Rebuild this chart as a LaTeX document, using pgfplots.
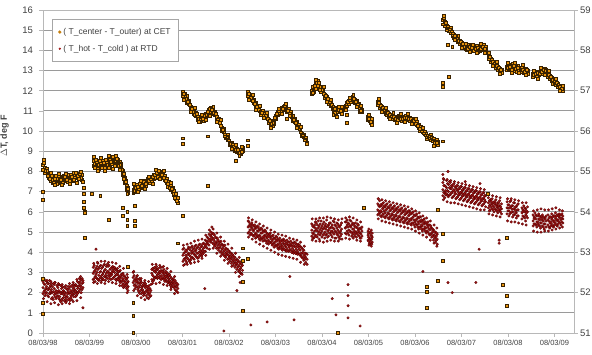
\documentclass[border=0pt]{standalone}
\usepackage{pgfplots}
\usepackage{pgfplotstable}
\pgfplotsset{compat=1.18}
\usepackage{fontspec}
\setmainfont{Liberation Sans}
\definecolor{cetfill}{HTML}{E8930C}
\definecolor{cetedge}{HTML}{3A2200}
\definecolor{rtdfill}{HTML}{A01515}
\definecolor{rtdedge}{HTML}{5A0000}
\definecolor{gridc}{HTML}{9A9A9A}
\definecolor{axc}{HTML}{B8B8B8}
\definecolor{txt}{HTML}{404040}

\pgfplotstableread{
x c1 c2 r1 r2 r3
0.00 8.35 8.10 2.25 2.55 1.95
0.04 8.20 7.95 2.40 2.10 1.85
0.08 7.95 8.15 2.30 2.00 2.55
0.12 7.70 7.85 2.15 1.80 2.45
0.16 7.55 7.75 2.35 1.95 2.05
0.20 7.60 7.45 2.00 2.30 1.75
0.24 7.70 7.50 1.90 2.20 2.40
0.28 7.55 7.80 2.10 1.70 1.95
0.32 7.65 7.45 1.85 2.25 2.00
0.36 7.50 7.70 2.05 1.65 1.80
0.40 7.75 7.55 1.95 2.20 1.60
0.44 7.60 7.80 1.75 2.10 1.90
0.48 7.55 7.70 2.00 1.65 1.85
0.52 7.70 7.50 1.80 2.15 1.95
0.56 7.80 7.60 1.95 1.70 2.20
0.60 7.65 7.85 2.10 1.85 1.75
0.64 7.75 7.55 1.90 2.25 2.05
0.68 7.85 7.70 2.15 1.95 2.30
0.72 7.70 7.90 2.05 2.35 1.85
0.76 7.80 7.65 2.30 2.00 2.50
0.80 7.75 7.95 2.20 2.55 2.35
0.84 7.60 7.85 2.45 2.15 2.70
1.08 8.55 8.30 2.95 2.65 3.25
1.12 8.40 8.20 2.80 3.10 2.55
1.16 8.25 8.50 3.00 2.70 3.30
1.20 8.35 8.15 2.85 3.20 2.60
1.24 8.45 8.25 3.05 2.75 3.35
1.28 8.30 8.55 2.90 3.25 2.70
1.32 8.40 8.20 3.10 2.80 3.40
1.36 8.25 8.45 2.95 3.30 2.75
1.40 8.50 8.30 3.05 2.85 3.30
1.44 8.35 8.60 3.15 2.80 2.95
1.48 8.65 8.40 2.90 3.25 3.00
1.52 8.45 8.70 3.05 2.75 3.20
1.56 8.55 8.35 2.85 3.15 2.65
1.60 8.40 8.60 2.95 2.70 3.20
1.64 8.50 8.25 2.75 3.05 2.60
1.68 8.20 8.40 2.90 2.55 2.80
1.72 8.05 7.85 2.70 2.45 2.95
1.76 7.70 7.45 2.55 2.80 2.30
1.80 7.30 7.10 2.40 2.65 2.20
1.83 6.95 7.20 2.30 2.55 2.10
1.94 7.10 6.95 2.75 2.50 3.00
1.98 7.25 7.00 2.40 2.65 2.20
2.02 7.15 7.35 2.55 2.30 2.80
2.06 7.30 7.10 2.25 2.50 2.05
2.10 7.20 7.40 2.45 2.10 2.60
2.14 7.40 7.25 2.00 2.35 2.15
2.18 7.35 7.55 2.30 1.95 2.50
2.22 7.50 7.30 2.10 1.85 2.35
2.26 7.45 7.65 1.95 2.25 2.05
2.30 7.60 7.45 2.20 1.80 2.00
2.34 7.70 7.55 2.95 2.65 3.15
2.38 7.65 7.85 2.80 3.10 2.60
2.42 7.80 7.70 3.00 2.75 3.20
2.46 7.90 7.75 2.90 3.15 2.70
2.50 7.85 8.00 3.05 2.80 2.95
2.54 7.95 7.80 2.85 3.10 2.65
2.58 7.75 7.90 2.95 2.70 3.05
2.62 7.60 7.80 2.75 2.95 2.55
2.66 7.45 7.65 2.85 2.60 3.00
2.70 7.30 7.50 2.70 2.50 2.85
2.74 7.10 7.35 2.55 2.80 2.35
2.78 7.00 7.20 2.65 2.40 2.50
2.82 6.85 7.05 2.45 2.25 2.60
2.86 6.65 6.90 2.30 2.50 2.10
2.90 6.45 6.70 2.20 2.40 2.00
3.01 11.95 11.75 3.85 3.55 4.15
3.05 11.70 11.85 4.00 3.70 3.40
3.09 11.55 11.40 3.75 4.05 3.50
3.13 11.35 11.50 3.95 3.65 4.25
3.17 11.20 11.05 3.80 4.10 3.60
3.21 11.00 11.15 4.05 3.75 4.30
3.25 10.85 11.00 3.90 4.20 3.65
3.29 10.75 10.90 4.10 3.80 4.35
3.33 10.70 10.55 3.95 4.25 3.70
3.37 10.60 10.45 4.15 3.85 4.40
3.41 10.50 10.65 4.00 4.30 3.80
3.45 10.65 10.50 4.20 3.95 4.45
3.49 10.70 10.85 4.35 4.05 4.60
3.53 10.90 10.75 4.50 4.20 4.75
3.57 11.05 10.90 4.65 4.35 4.90
3.61 11.15 10.95 4.80 4.50 5.00
3.65 11.00 10.85 4.70 4.95 4.45
3.69 10.80 10.95 4.55 4.85 4.30
3.73 10.70 10.55 4.45 4.70 4.20
3.77 10.45 10.60 4.35 4.60 4.10
3.81 10.30 10.45 4.25 4.50 4.00
3.85 10.15 10.00 4.15 4.40 3.90
3.89 9.95 10.10 4.05 4.30 3.85
3.93 9.80 9.65 3.95 4.20 3.75
3.97 9.55 9.70 3.90 4.15 3.65
4.01 9.45 9.35 3.80 4.05 3.55
4.05 9.30 9.45 3.70 3.95 3.45
4.09 9.20 9.35 3.60 3.85 3.35
4.13 9.15 9.05 3.50 3.75 3.25
4.17 9.00 9.15 3.40 3.65 3.15
4.21 9.05 8.95 3.30 3.55 3.05
4.25 8.90 9.10 3.20 3.50 2.95
4.29 9.05 9.20 3.35 3.10 3.55
4.41 11.95 11.75 5.25 4.95 5.55
4.45 11.80 11.60 5.10 5.40 4.85
4.49 11.55 11.70 5.20 4.90 5.45
4.53 11.40 11.55 5.05 5.30 4.80
4.57 11.25 11.40 4.95 5.25 4.70
4.61 11.10 11.25 5.05 4.80 5.30
4.65 11.00 11.15 4.85 5.15 4.65
4.69 10.95 10.80 4.95 4.70 5.20
4.73 10.85 11.00 4.75 5.05 4.55
4.77 10.70 10.85 4.85 4.60 5.10
4.81 10.65 10.80 4.70 4.95 4.45
4.85 10.55 10.40 4.60 4.85 4.40
4.89 10.45 10.30 4.75 4.50 4.95
4.93 10.25 10.40 4.55 4.80 4.35
4.97 10.50 10.35 4.45 4.70 4.25
5.01 10.75 10.60 4.60 4.35 4.80
5.05 10.95 10.80 4.40 4.65 4.20
5.09 11.05 10.90 4.50 4.25 4.70
5.13 11.15 11.00 4.35 4.60 4.15
5.17 11.20 11.05 4.45 4.20 4.65
5.21 11.15 11.25 4.30 4.55 4.10
5.25 11.10 10.95 4.40 4.15 4.60
5.29 10.95 11.10 4.25 4.50 4.05
5.33 10.80 10.95 4.35 4.10 4.55
5.37 10.65 10.50 4.20 4.45 4.00
5.41 10.45 10.60 4.30 4.05 4.50
5.45 10.30 10.45 4.15 4.40 3.95
5.49 10.15 10.30 4.25 3.95 4.40
5.53 10.00 10.15 4.10 3.85 4.30
5.57 9.90 9.75 3.95 4.20 3.75
5.61 9.70 9.85 3.85 4.10 3.60
5.65 9.55 9.70 3.75 3.95 3.50
5.68 9.45 9.40 3.65 3.90 3.40
5.78 12.00 11.85 5.10 4.80 5.40
5.82 12.15 11.95 4.90 5.25 4.70
5.86 12.35 12.10 5.20 5.50 4.85
5.90 12.50 12.25 5.05 4.75 5.35
5.94 12.30 12.10 5.30 5.00 4.65
5.98 12.15 11.95 4.95 5.20 5.55
6.02 11.95 12.10 5.15 4.85 5.40
6.06 11.80 11.65 5.00 5.30 4.70
6.10 11.70 11.55 5.25 4.90 5.60
6.14 11.50 11.35 4.80 5.10 5.35
6.18 11.40 11.25 5.20 4.95 5.45
6.22 11.25 11.10 5.05 5.35 4.75
6.26 11.15 11.00 4.90 5.15 5.50
6.30 11.05 10.90 5.30 5.00 4.70
6.34 11.00 11.15 5.10 4.85 5.40
6.38 10.95 11.10 4.95 5.25 4.65
6.42 11.05 11.20 5.15 5.45 4.90
6.50 11.25 11.10 5.20 4.95 5.50
6.54 11.40 11.25 5.35 5.05 5.60
6.58 11.50 11.35 5.10 5.40 4.85
6.62 11.60 11.45 5.25 5.00 5.55
6.66 11.70 11.55 5.15 5.45 4.90
6.70 11.55 11.40 5.30 5.05 4.80
6.74 11.35 11.50 5.00 5.25 4.75
6.78 11.20 11.35 5.10 4.85 5.35
6.82 11.10 10.95 4.95 5.20 4.70
6.86 10.95 11.05 5.05 4.80 5.25
6.99 10.70 10.55 4.85 4.60 5.05
7.02 10.50 10.65 4.70 4.45 4.95
7.05 10.40 10.55 4.60 4.85 4.40
7.08 10.35 10.50 4.75 4.50 4.95
7.20 11.45 11.30 6.10 6.40 5.85
7.24 11.30 11.15 6.25 5.95 6.55
7.28 11.20 11.05 6.00 6.30 5.75
7.32 11.10 10.95 6.20 5.90 6.45
7.36 11.00 10.85 5.95 6.25 5.70
7.40 10.95 10.80 6.15 5.85 6.40
7.44 10.85 10.70 5.90 6.20 5.65
7.48 10.80 10.65 6.10 5.80 6.35
7.52 10.75 10.60 5.85 6.15 5.60
7.56 10.70 10.55 6.05 5.75 6.30
7.60 10.65 10.50 5.80 6.10 5.55
7.64 10.60 10.75 6.00 5.70 6.25
7.68 10.55 10.70 5.75 6.05 5.50
7.72 10.65 10.50 5.95 5.65 6.20
7.76 10.70 10.55 5.70 6.00 5.45
7.80 10.60 10.75 5.90 5.60 6.15
7.84 10.55 10.70 5.65 5.95 5.40
7.88 10.65 10.50 5.85 5.55 6.05
7.92 10.55 10.40 5.60 5.90 5.35
7.96 10.45 10.60 5.75 5.45 6.00
8.00 10.40 10.55 5.50 5.80 5.25
8.04 10.30 10.45 5.65 5.35 5.90
8.08 10.15 10.30 5.40 5.70 5.15
8.12 10.05 10.20 5.50 5.25 5.75
8.16 9.95 10.10 5.30 5.55 5.05
8.20 9.85 10.00 5.40 5.15 5.65
8.24 9.75 9.90 5.20 5.45 4.95
8.28 9.70 9.80 5.25 5.00 5.50
8.32 9.60 9.75 5.10 4.85 5.35
8.36 9.55 9.70 4.95 5.20 4.75
8.40 9.50 9.65 4.85 5.10 4.60
8.44 9.40 9.55 4.75 5.00 4.50
8.48 9.35 9.50 4.65 4.90 4.40
8.60 15.50 15.30 7.10 7.45 6.80
8.64 15.40 15.20 6.95 7.30 6.70
8.68 15.25 15.05 7.20 6.90 7.55
8.72 15.10 14.95 7.00 7.35 6.75
8.76 15.00 14.85 7.15 6.85 7.45
8.80 14.90 14.75 6.95 7.25 6.70
8.84 14.80 14.65 7.10 6.80 7.40
8.88 14.70 14.55 6.90 7.20 6.65
8.92 14.60 14.45 7.05 6.75 7.30
8.96 14.50 14.35 6.85 7.15 6.60
9.00 14.40 14.25 7.00 6.70 7.25
9.04 14.30 14.15 6.80 7.10 6.55
9.08 14.25 14.10 6.95 6.65 7.20
9.12 14.20 14.05 6.75 7.05 6.50
9.16 14.15 14.30 6.90 6.60 7.15
9.20 14.10 14.25 6.70 7.00 6.45
9.24 14.05 14.20 6.85 6.55 7.10
9.28 14.15 14.00 6.65 6.95 6.40
9.32 14.25 14.05 6.80 6.50 7.05
9.36 14.10 13.95 6.60 6.90 6.35
9.40 14.20 14.00 6.75 6.45 7.00
9.44 14.05 14.25 6.55 6.85 6.30
9.48 14.15 14.30 6.70 6.40 6.95
9.52 14.00 14.20 6.50 6.80 6.25
9.58 13.75 13.60 6.45 6.20 6.70
9.62 13.60 13.45 6.35 6.60 6.10
9.66 13.50 13.35 6.40 6.15 6.65
9.70 13.40 13.25 6.25 6.50 6.00
9.74 13.30 13.15 6.35 6.10 6.60
9.78 13.20 13.05 6.20 6.45 5.95
9.82 13.10 12.95 6.30 6.05 6.55
9.86 13.05 12.90 6.15 6.40 5.90
9.98 13.20 13.05 6.20 5.90 6.50
10.02 13.30 13.10 6.05 6.35 5.80
10.06 13.25 13.05 6.25 5.95 6.55
10.10 13.35 13.15 6.00 6.30 5.75
10.14 13.20 13.00 6.15 5.85 6.45
10.18 13.10 12.95 5.95 6.25 5.70
10.22 13.25 13.05 6.10 5.80 6.40
10.30 13.15 12.95 5.95 6.20 5.65
10.34 13.05 12.90 6.05 5.75 6.30
10.38 12.95 13.10 5.85 6.15 5.55
10.42 13.00 12.85 6.00 5.70 6.25
10.54 12.85 12.70 5.55 5.85 5.30
10.58 12.95 12.80 5.70 5.40 5.95
10.62 12.90 12.75 5.50 5.80 5.25
10.66 12.80 12.95 5.65 5.35 5.90
10.70 12.90 13.05 5.45 5.75 5.20
10.74 13.00 12.85 5.60 5.30 5.85
10.78 13.10 12.95 5.40 5.70 5.15
10.82 12.95 13.05 5.55 5.25 5.80
10.86 12.85 12.70 5.60 5.35 5.85
10.90 12.75 12.60 5.45 5.75 5.20
10.94 12.65 12.50 5.65 5.40 5.90
10.98 12.55 12.40 5.50 5.80 5.25
11.02 12.45 12.30 5.70 5.45 5.95
11.06 12.35 12.20 5.55 5.85 5.30
11.10 12.25 12.15 5.75 5.50 5.90
11.14 12.20 12.05 5.60 5.35 5.85
11.18 12.10 12.00 5.65 5.45 5.80
}\main

\pgfplotstableread{
x c3 r4 r5 r6
0.02 8.45 2.05 2.45 2.70
0.06 8.05 1.95 2.60 2.20
0.10 7.80 2.45 1.85 2.15
0.14 7.65 1.95 2.60 2.25
0.18 7.80 2.15 1.70 2.45
0.22 7.45 2.45 2.05 1.65
0.26 7.65 2.00 2.50 1.80
0.30 7.40 2.35 1.80 2.05
0.34 7.80 1.70 2.10 2.40
0.38 7.60 1.95 2.35 1.55
0.42 7.45 2.30 1.70 2.05
0.46 7.75 1.60 2.00 2.25
0.50 7.60 2.20 1.75 1.55
0.54 7.85 1.65 2.05 2.30
0.58 7.55 2.30 2.00 1.60
0.62 7.75 1.95 1.65 2.35
0.66 7.60 2.40 1.80 2.15
0.70 7.95 1.80 2.40 2.05
0.74 7.80 2.20 2.55 1.95
0.78 7.90 2.45 2.10 2.70
0.82 7.70 2.30 2.65 2.00
0.86 7.50 2.60 2.25 2.50
1.10 8.40 3.05 2.70 3.35
1.14 8.60 2.75 3.20 2.90
1.18 8.15 3.15 2.65 3.45
1.22 8.55 2.70 3.00 3.30
1.26 8.20 3.20 2.85 2.60
1.30 8.45 2.65 3.35 3.00
1.34 8.60 3.15 2.85 2.60
1.38 8.35 2.70 3.40 3.05
1.42 8.20 3.35 2.95 2.70
1.46 8.50 2.85 3.20 2.65
1.50 8.75 3.30 2.70 3.10
1.54 8.30 2.80 3.25 3.00
1.58 8.65 3.10 2.60 2.90
1.62 8.30 2.65 3.05 2.85
1.66 8.35 3.10 2.70 2.50
1.70 8.10 2.60 2.90 2.35
1.74 7.90 2.85 2.40 2.60
1.78 7.55 2.35 2.70 2.50
1.82 7.15 2.50 2.25 2.75
1.96 7.05 2.60 2.85 2.35
2.00 7.20 2.70 2.30 2.55
2.04 7.25 2.15 2.45 2.65
2.08 7.40 2.35 2.70 1.95
2.12 7.30 2.25 1.95 2.50
2.16 7.50 2.40 2.05 1.85
2.20 7.40 2.00 2.45 2.25
2.24 7.60 2.30 1.75 2.15
2.28 7.55 1.90 2.35 2.15
2.32 7.65 2.10 2.40 1.85
2.36 7.75 2.85 3.20 2.55
2.40 7.85 3.05 2.70 3.25
2.44 7.95 2.80 3.10 3.30
2.48 8.05 3.20 2.75 2.95
2.52 7.90 2.70 3.25 3.00
2.56 7.85 3.05 2.75 3.25
2.60 7.70 2.85 3.15 2.65
2.64 7.55 2.65 3.05 2.80
2.68 7.40 2.95 2.50 2.75
2.72 7.20 2.60 2.90 2.45
2.76 7.15 2.45 2.70 2.25
2.80 6.90 2.70 2.30 2.55
2.84 6.75 2.35 2.60 2.15
2.88 6.55 2.45 2.05 2.30
3.03 11.85 3.95 3.65 4.20
3.07 11.60 3.60 4.10 3.85
3.11 11.45 4.15 3.70 3.90
3.15 11.30 3.55 3.85 4.20
3.19 11.10 3.95 4.25 3.70
3.23 10.95 3.70 4.15 3.95
3.27 10.80 4.30 3.85 4.05
3.31 10.85 3.75 4.20 3.95
3.35 10.60 4.35 4.00 3.75
3.39 10.55 3.90 4.25 4.05
3.43 10.60 4.40 4.10 3.90
3.47 10.75 4.05 4.40 4.25
3.51 10.80 4.55 4.25 4.40
3.55 10.95 4.70 4.40 4.55
3.59 11.10 4.55 4.85 4.65
3.63 11.05 4.90 4.60 4.75
3.67 10.90 4.40 4.65 4.90
3.71 10.85 4.75 4.45 4.35
3.75 10.55 4.25 4.55 4.70
3.79 10.40 4.50 4.20 4.40
3.83 10.25 4.05 4.35 4.55
3.87 10.05 4.35 3.95 4.20
3.91 9.85 3.80 4.10 4.35
3.95 9.70 4.15 3.85 4.00
3.99 9.55 3.70 4.05 3.85
4.03 9.40 3.95 3.65 3.80
4.07 9.35 3.55 3.80 3.90
4.11 9.25 3.75 3.45 3.65
4.15 9.10 3.35 3.60 3.45
4.19 9.10 3.50 3.25 3.60
4.23 8.95 3.15 3.40 3.05
4.27 9.00 3.30 2.95 3.45
4.43 11.85 5.30 5.00 5.50
4.47 11.65 4.95 5.25 5.35
4.51 11.50 5.35 5.10 4.85
4.55 11.35 4.85 5.15 5.35
4.59 11.20 5.20 4.90 4.75
4.63 11.05 4.75 5.05 5.25
4.67 10.95 5.10 4.80 4.60
4.71 10.90 4.65 4.95 5.15
4.75 10.75 5.00 4.70 4.80
4.79 10.75 4.55 4.80 5.05
4.83 10.60 4.90 4.55 4.75
4.87 10.50 4.50 4.75 4.90
4.91 10.35 4.80 4.45 4.65
4.95 10.40 4.40 4.65 4.85
4.99 10.60 4.70 4.50 4.30
5.03 10.85 4.30 4.55 4.75
5.07 11.00 4.60 4.35 4.15
5.11 11.10 4.25 4.55 4.45
5.15 11.10 4.55 4.30 4.10
5.19 11.25 4.15 4.40 4.60
5.23 11.05 4.45 4.25 4.05
5.27 11.00 4.05 4.35 4.50
5.31 10.85 4.40 4.15 4.30
5.35 10.70 4.00 4.30 4.45
5.39 10.55 4.35 4.10 3.95
5.43 10.40 3.95 4.25 4.45
5.47 10.20 4.30 4.05 3.90
5.51 10.10 3.90 4.15 4.35
5.55 9.95 4.25 3.95 3.80
5.59 9.80 3.70 4.00 4.15
5.63 9.60 3.95 3.65 3.80
5.80 11.90 4.95 5.30 4.70
5.84 12.25 5.35 5.05 4.75
5.88 12.40 4.80 5.10 5.45
5.92 12.40 5.20 4.90 5.55
5.96 12.20 4.85 5.40 5.10
6.00 12.05 5.30 5.05 4.75
6.04 11.85 4.90 5.20 5.50
6.08 11.75 5.40 5.15 4.85
6.12 11.60 5.05 4.75 5.30
6.16 11.45 5.45 4.95 5.20
6.20 11.30 4.85 5.25 5.05
6.24 11.20 5.20 4.95 5.55
6.28 11.10 5.05 4.70 5.35
6.32 10.95 5.20 5.45 4.90
6.36 11.05 4.75 5.00 5.30
6.40 11.00 5.35 5.05 4.80
6.52 11.35 5.25 5.50 4.90
6.56 11.45 4.95 5.25 5.45
6.60 11.55 5.30 5.05 5.60
6.64 11.65 5.00 5.35 4.80
6.68 11.60 5.40 5.15 4.95
6.72 11.45 4.90 5.25 5.45
6.76 11.30 5.20 4.95 5.40
6.80 11.15 4.80 5.15 5.00
6.84 11.00 5.15 4.90 4.70
7.00 10.60 4.55 4.95 4.75
7.04 10.45 5.00 4.65 4.50
7.07 10.60 4.40 4.80 4.65
7.22 11.40 5.90 6.30 6.05
7.26 11.25 6.35 6.05 5.80
7.30 11.15 5.85 6.15 6.40
7.34 11.05 6.30 6.05 5.75
7.38 10.95 5.80 6.10 6.35
7.42 10.90 6.25 5.95 5.70
7.46 10.80 5.75 6.05 6.30
7.50 10.70 6.20 5.90 5.65
7.54 10.70 5.70 6.00 6.25
7.58 10.60 6.15 5.85 5.60
7.62 10.55 5.65 5.95 6.20
7.66 10.65 6.10 5.80 5.55
7.70 10.60 5.60 5.90 6.15
7.74 10.60 6.05 5.75 5.50
7.78 10.65 5.55 5.85 6.10
7.82 10.65 6.00 5.70 5.45
7.86 10.60 5.50 5.80 6.05
7.90 10.60 5.95 5.65 5.40
7.94 10.50 5.45 5.70 5.95
7.98 10.50 5.85 5.60 5.35
8.02 10.35 5.40 5.60 5.85
8.06 10.25 5.75 5.50 5.25
8.10 10.10 5.25 5.55 5.75
8.14 10.00 5.60 5.35 5.15
8.18 9.90 5.15 5.45 5.60
8.22 9.80 5.50 5.25 5.05
8.26 9.70 5.05 5.35 5.40
8.30 9.65 5.35 5.15 4.90
8.34 9.55 4.90 5.20 5.30
8.38 9.50 5.15 4.80 5.05
8.42 9.45 4.70 5.00 4.85
8.46 9.45 4.95 4.60 4.80
8.62 15.60 7.30 6.95 7.60
8.66 15.35 6.85 7.25 7.05
8.70 15.20 7.40 7.05 6.80
8.74 15.05 6.85 7.20 7.50
8.78 14.95 7.30 6.95 7.15
8.82 14.85 6.75 7.05 7.35
8.86 14.75 7.25 6.90 7.00
8.90 14.60 6.70 7.10 7.30
8.94 14.50 7.15 6.85 6.95
8.98 14.45 6.65 6.95 7.25
9.02 14.35 7.10 6.80 6.90
9.06 14.20 6.60 6.90 7.20
9.10 14.15 7.05 6.75 6.85
9.14 14.10 6.55 6.85 7.15
9.18 14.20 7.00 6.70 6.80
9.22 14.15 6.50 6.80 7.10
9.26 14.00 6.95 6.65 6.75
9.30 14.10 6.45 6.75 7.05
9.34 14.15 6.90 6.60 6.70
9.38 14.05 6.40 6.70 7.00
9.42 14.10 6.85 6.55 6.65
9.46 14.20 6.35 6.65 6.95
9.50 14.10 6.80 6.50 6.60
9.60 13.70 6.30 6.55 6.05
9.64 13.55 6.60 6.25 6.50
9.68 13.45 6.10 6.45 6.30
9.72 13.35 6.50 6.15 6.40
9.76 13.25 6.05 6.35 6.25
9.80 13.15 6.45 6.10 6.30
9.84 13.05 6.00 6.25 6.15
10.00 13.15 6.35 6.05 6.20
10.04 13.20 5.90 6.20 6.50
10.08 13.05 6.30 6.00 6.15
10.12 13.25 5.85 6.15 6.45
10.16 13.10 6.25 5.95 6.05
10.20 13.15 5.80 6.10 6.35
10.32 13.05 6.10 5.80 6.00
10.36 12.95 5.70 6.00 6.20
10.40 13.05 6.05 5.80 5.95
10.56 12.80 5.75 5.40 5.65
10.60 12.85 5.35 5.65 5.85
10.64 12.90 5.80 5.50 5.40
10.68 12.85 5.30 5.60 5.80
10.72 12.95 5.75 5.45 5.65
10.76 13.05 5.25 5.55 5.75
10.80 13.00 5.70 5.40 5.65
10.88 12.80 5.25 5.55 5.70
10.92 12.70 5.75 5.50 5.30
10.96 12.55 5.30 5.60 5.75
11.00 12.50 5.80 5.55 5.35
11.04 12.40 5.35 5.65 5.80
11.08 12.30 5.80 5.60 5.40
11.12 12.20 5.45 5.70 5.85
11.16 12.10 5.70 5.50 5.90
}\mid

\pgfplotstableread{
x ce r7 r8
0.01 8.60 2.70 1.70
0.09 8.05 1.55 2.60
0.17 7.95 2.55 1.45
0.25 7.35 1.50 2.50
0.33 7.90 2.45 1.40
0.41 7.35 1.45 2.40
0.49 7.90 2.35 1.50
0.57 7.40 1.45 2.45
0.65 7.95 2.50 1.55
0.73 7.45 1.60 2.65
0.81 8.00 2.80 1.75
1.09 8.75 3.45 2.50
1.17 8.05 2.45 3.50
1.25 8.70 3.55 2.50
1.33 8.05 2.45 3.55
1.41 8.80 3.50 2.55
1.49 8.15 2.50 3.50
1.57 8.80 3.45 2.45
1.65 8.10 2.35 3.30
1.73 7.65 3.20 2.25
1.81 6.90 2.00 2.90
1.95 7.40 3.05 2.10
2.03 7.00 1.85 2.85
2.11 7.55 2.70 1.75
2.19 7.15 1.65 2.60
2.27 7.75 2.55 1.70
2.35 7.40 3.40 2.45
2.43 8.10 2.45 3.40
2.51 7.65 3.35 2.50
2.59 8.05 2.40 3.30
2.67 7.25 3.20 2.35
2.75 7.45 2.15 3.05
2.83 6.70 2.80 1.95
3.02 11.55 4.35 3.35
3.10 11.75 3.40 4.40
3.18 10.95 4.45 3.45
3.26 11.15 3.50 4.55
3.34 10.45 4.60 3.55
3.42 10.80 3.70 4.65
3.50 10.55 4.85 3.85
3.58 10.75 4.15 5.10
3.66 11.20 5.15 4.20
3.74 10.45 3.95 4.95
3.82 10.55 4.75 3.80
3.90 9.75 3.60 4.55
3.98 9.85 4.40 3.45
4.06 9.15 3.30 4.20
4.14 9.35 3.95 3.00
4.22 8.80 2.80 3.75
4.28 9.25 3.60 2.90
4.42 11.55 5.70 4.75
4.50 11.80 4.65 5.60
4.58 11.05 5.50 4.50
4.66 11.25 4.40 5.40
4.74 10.65 5.30 4.30
4.82 10.90 4.20 5.20
4.90 10.15 5.10 4.10
4.98 10.65 4.00 5.00
5.06 11.10 4.90 3.90
5.14 10.85 3.85 4.85
5.22 11.35 4.80 3.80
5.30 10.75 3.75 4.70
5.38 10.75 4.65 3.70
5.46 10.15 3.65 4.60
5.54 10.20 4.50 3.50
5.62 9.55 3.40 4.30
5.79 12.20 5.65 4.60
5.87 12.55 4.55 5.65
5.95 12.05 5.70 4.55
6.03 12.20 4.50 5.70
6.11 11.45 5.75 4.55
6.19 11.55 4.60 5.70
6.27 10.90 5.65 4.55
6.35 11.20 4.55 5.60
6.43 10.85 5.65 4.65
6.51 11.05 4.70 5.70
6.59 11.65 5.75 4.65
6.67 11.80 4.70 5.70
6.75 11.20 5.60 4.60
6.83 11.25 4.55 5.50
7.01 10.80 5.15 4.35
7.06 10.30 4.30 5.10
7.21 11.60 6.65 5.65
7.29 10.95 5.55 6.60
7.37 11.15 6.55 5.50
7.45 10.60 5.45 6.50
7.53 10.90 6.45 5.40
7.61 10.40 5.35 6.40
7.69 10.85 6.35 5.30
7.77 10.45 5.25 6.30
7.85 10.85 6.25 5.20
7.93 10.35 5.15 6.15
8.01 10.60 6.05 5.05
8.09 10.00 4.95 5.95
8.17 10.15 5.80 4.85
8.25 9.60 4.75 5.70
8.33 9.85 5.55 4.60
8.41 9.30 4.45 5.35
8.47 9.60 5.20 4.30
8.61 15.70 7.65 6.60
8.69 15.00 6.50 7.60
8.77 15.15 7.55 6.45
8.85 14.55 6.45 7.50
8.93 14.75 7.45 6.40
9.01 14.15 6.35 7.40
9.09 14.35 7.35 6.30
9.17 13.95 6.25 7.30
9.25 14.30 7.25 6.20
9.33 13.90 6.15 7.20
9.41 14.35 7.15 6.10
9.49 13.90 6.10 7.10
9.59 13.90 6.85 5.90
9.67 13.25 5.85 6.80
9.75 13.45 6.75 5.80
9.83 12.85 5.75 6.70
9.99 13.40 6.65 5.55
10.07 12.90 5.50 6.65
10.15 13.40 6.60 5.50
10.23 12.90 5.45 6.55
10.31 13.30 6.45 5.40
10.39 12.80 5.35 6.45
10.55 13.00 6.05 5.05
10.63 12.60 5.00 6.10
10.71 13.15 6.15 5.00
10.79 12.80 5.05 6.10
10.87 13.00 6.10 5.05
10.95 12.35 5.10 6.15
11.03 12.60 6.20 5.15
11.11 12.00 5.20 6.10
11.17 12.25 6.05 5.25
}\edge

\pgfplotstableread{
x y
0.00 7.00
0.00 6.60
0.00 2.70
0.00 1.50
0.00 0.95
0.87 7.20
0.87 6.90
0.88 6.50
0.88 6.20
0.89 6.00
0.89 5.95
0.90 4.70
1.05 6.90
1.23 6.80
1.42 5.60
1.72 6.20
1.72 5.80
1.78 7.50
1.81 6.00
1.81 5.60
1.81 5.30
1.83 3.30
1.94 1.50
1.94 0.85
1.94 0.00
1.98 6.30
1.98 5.55
1.98 5.30
2.90 4.45
3.01 5.80
3.01 9.65
3.01 9.40
3.55 9.75
3.55 7.30
4.15 8.55
4.30 4.20
4.30 3.60
4.30 2.55
4.30 1.10
4.41 3.70
4.41 9.55
4.41 9.30
5.25 10.60
6.24 10.80
6.32 10.70
6.54 10.40
6.54 10.80
6.90 6.20
6.34 0.00
8.26 2.30
8.26 2.05
8.26 1.25
8.49 6.10
8.49 2.60
8.60 9.50
8.60 4.90
8.60 3.60
8.60 12.40
8.60 12.20
8.73 12.70
8.71 14.30
8.80 14.20
9.57 6.90
9.89 2.40
9.98 4.70
9.98 1.85
9.98 1.35
}\cetout

\pgfplotstableread{
x y
0.86 1.25
1.14 4.15
3.48 2.20
3.63 5.25
3.89 0.10
4.17 2.10
4.24 2.50
4.47 0.40
4.82 0.55
5.31 2.80
5.40 0.65
6.22 1.70
6.30 0.90
6.56 2.40
6.56 1.85
6.56 1.35
6.56 0.75
6.82 0.35
8.17 3.05
8.71 2.50
8.80 2.00
9.31 2.50
9.38 4.15
9.81 4.60
9.81 4.45
8.60 7.85
8.71 8.00
9.08 7.50
9.40 7.40
}\rtdout

\begin{document}
\begin{tikzpicture}
\pgfplotsset{
  cet/.style={only marks, mark=square*, mark size=1.45pt,
    mark options={fill=cetfill, draw=cetedge, line width=0.35pt}},
  rtd/.style={only marks, mark=*, mark size=1.3pt,
    mark options={fill=rtdfill, draw=rtdedge, line width=0.3pt}},
}
\begin{axis}[
  scale only axis, width=531pt, height=323pt,
  xmin=0, xmax=11.42, ymin=0, ymax=16,
  clip=false,
  xtick={0,1,...,11},
  xticklabels={08/03/98,08/03/99,08/03/00,08/03/01,08/03/02,08/03/03,08/03/04,08/03/05,08/03/06,08/03/07,08/03/08,08/03/09},
  ytick={0,1,...,16},
  ymajorgrids,
  grid style={gridc, line width=0.9pt},
  axis line style={axc, line width=0.8pt},
  x axis line style={gridc!80!black},
  tick style={axc, line width=0.6pt},
  tick align=outside,
  major tick length=3.5pt,
  xtick pos=bottom, ytick pos=left,
  /pgf/number format/assume math mode=true,
  xticklabel style={font=\fontsize{7.5}{9}\selectfont, text=txt},
  yticklabel style={font=\fontsize{9.5}{11}\selectfont, text=txt, xshift=-3pt},
  ylabel={$\Delta$T, deg F},
  ylabel style={font=\fontsize{9}{11}\selectfont\bfseries, text=txt, at={(axis description cs:-0.058,0.61)}, anchor=south},
  legend style={at={(0.017,0.972)}, anchor=north west, draw=gray!70, fill=white,
    font=\fontsize{8.5}{10}\selectfont, text=txt, inner xsep=6pt, inner ysep=7pt, row sep=5pt},
  legend cell align=left,
  reverse legend,
]
\addplot[rtd, legend image code/.code={\fill[rtdfill] (0.25cm,0) circle (0.9pt);}] table[x=x,y=r1]{\main};
\addlegendentry{( T\_hot - T\_cold ) at RTD}
\addplot[rtd, forget plot] table[x=x,y=r2]{\main};
\addplot[rtd, forget plot] table[x=x,y=r3]{\main};
\addplot[rtd, forget plot] table[x=x,y=r4]{\mid};
\addplot[rtd, forget plot] table[x=x,y=r5]{\mid};
\addplot[rtd, forget plot] table[x=x,y=r6]{\mid};
\addplot[rtd, forget plot] table[x=x,y=r7]{\edge};
\addplot[rtd, forget plot] table[x=x,y=r8]{\edge};
\addplot[rtd, forget plot] table[x=x,y=y]{\rtdout};
\addplot[cet, legend image code/.code={\fill[cetfill!85!black] (0.25cm,0) circle (1.4pt);}] table[x=x,y=c1]{\main};
\addlegendentry{( T\_center - T\_outer) at CET}
\addplot[cet, forget plot] table[x=x,y=c2]{\main};
\addplot[cet, forget plot] table[x=x,y=c3]{\mid};
\addplot[cet, forget plot] table[x=x,y=ce]{\edge};
\addplot[cet, forget plot] table[x=x,y=y]{\cetout};
\end{axis}
\begin{axis}[
  scale only axis, width=531pt, height=323pt,
  xmin=0, xmax=11.42, ymin=51, ymax=59,
  axis x line=none,
  axis y line*=right,
  ytick={51,52,...,59},
  axis line style={axc, line width=0.8pt},
  tick style={axc, line width=0.6pt},
  tick align=outside,
  major tick length=3.5pt,
  /pgf/number format/assume math mode=true,
  yticklabel style={font=\fontsize{9.5}{11}\selectfont, text=txt, xshift=-1pt},
]
\end{axis}
\draw[axc, line width=0.8pt] (current axis.north west) -- (current axis.north east);
\pgfresetboundingbox
\path ([xshift=-43pt,yshift=-21pt]current axis.south west) rectangle ([xshift=18pt,yshift=10pt]current axis.north east);
\end{tikzpicture}
\end{document}
